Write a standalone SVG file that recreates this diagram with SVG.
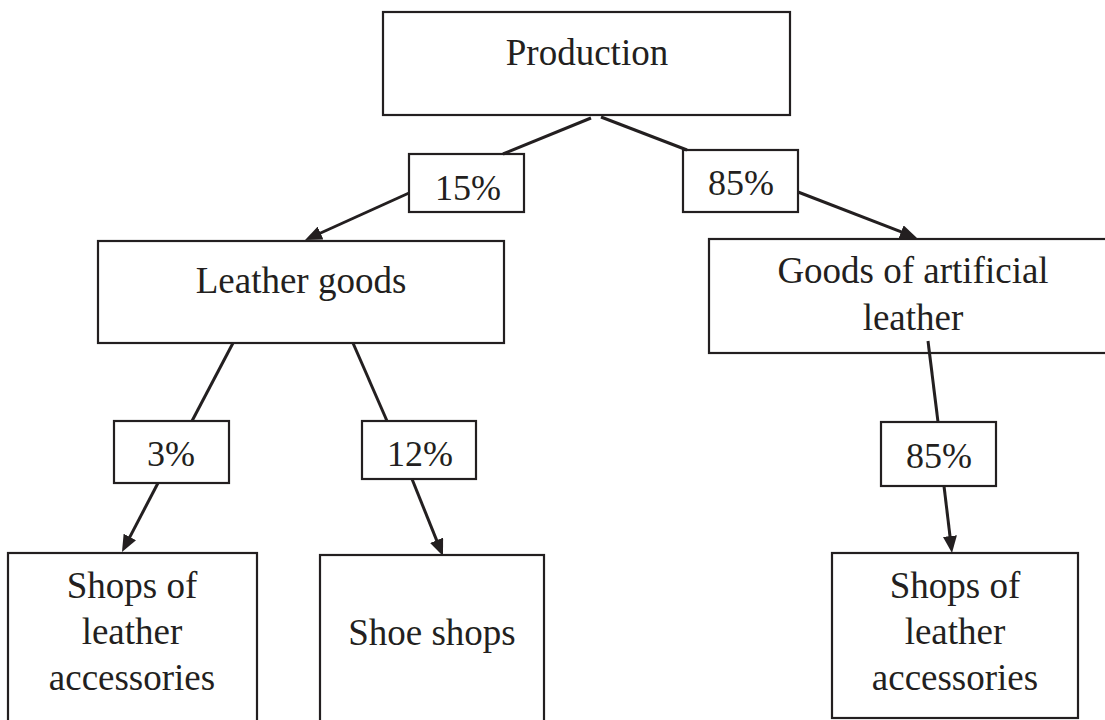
<svg xmlns="http://www.w3.org/2000/svg" width="1105" height="720" viewBox="0 0 1105 720">
<style>
.box{fill:#fff;stroke:#231f20;stroke-width:2.2}
.t{font-family:'Liberation Serif','Times New Roman','DejaVu Serif',serif;font-size:37px;fill:#231f20;text-anchor:middle}
.p{font-size:36px}
.c{fill:none;stroke:#231f20;stroke-width:3}
</style>
<defs>
<marker id="ah" markerUnits="userSpaceOnUse" markerWidth="18" markerHeight="14" refX="12" refY="7" orient="auto" viewBox="0 0 18 14">
<path d="M0,0 L17,7 L0,14 z" fill="#231f20"/>
</marker>
</defs>
<rect width="1105" height="720" fill="#fff"/>
<g id="production">
<rect class="box" x="383" y="12" width="407" height="103"/>
<text class="t" x="587" y="65" font-family="Liberation Serif, serif">Production</text>
</g>
<g id="p15">
<rect class="box" x="409" y="154" width="115" height="58"/>
<text class="t p" x="468" y="200" font-family="Liberation Serif, serif">15%</text>
</g>
<g id="p85a">
<rect class="box" x="683" y="150" width="115" height="62"/>
<text class="t p" x="741" y="195" font-family="Liberation Serif, serif">85%</text>
</g>
<g id="leather-goods">
<rect class="box" x="98" y="241" width="406" height="102"/>
<text class="t" x="301" y="293" font-family="Liberation Serif, serif">Leather goods</text>
</g>
<g id="artificial">
<rect class="box" x="709" y="239" width="410" height="114"/>
<text class="t" x="913" y="283" font-family="Liberation Serif, serif">Goods of artificial</text>
<text class="t" x="913" y="330" font-family="Liberation Serif, serif">leather</text>
</g>
<g id="p3">
<rect class="box" x="114" y="421" width="115" height="62"/>
<text class="t p" x="171" y="466" font-family="Liberation Serif, serif">3%</text>
</g>
<g id="p12">
<rect class="box" x="362" y="421" width="114" height="58"/>
<text class="t p" x="420" y="466" font-family="Liberation Serif, serif">12%</text>
</g>
<g id="p85b">
<rect class="box" x="881" y="422" width="115" height="64"/>
<text class="t p" x="939" y="468" font-family="Liberation Serif, serif">85%</text>
</g>
<g id="shops-left">
<rect class="box" x="8" y="553" width="249" height="180"/>
<text class="t" x="132" y="598" font-family="Liberation Serif, serif">Shops of</text>
<text class="t" x="132" y="644" font-family="Liberation Serif, serif">leather</text>
<text class="t" x="132" y="690" font-family="Liberation Serif, serif">accessories</text>
</g>
<g id="shoe-shops">
<rect class="box" x="320" y="555" width="224" height="180"/>
<text class="t" x="432" y="645" font-family="Liberation Serif, serif">Shoe shops</text>
</g>
<g id="shops-right">
<rect class="box" x="832" y="553" width="246" height="165"/>
<text class="t" x="955" y="598" font-family="Liberation Serif, serif">Shops of</text>
<text class="t" x="955" y="644" font-family="Liberation Serif, serif">leather</text>
<text class="t" x="955" y="690" font-family="Liberation Serif, serif">accessories</text>
</g>
<g id="connectors">
<line class="c" x1="591" y1="118" x2="503" y2="154"/>
<line class="c" x1="409" y1="193" x2="309.6" y2="238.0" marker-end="url(#ah)"/>
<line class="c" x1="601" y1="117" x2="687" y2="150"/>
<line class="c" x1="798" y1="192" x2="912.3" y2="236.2" marker-end="url(#ah)"/>
<line class="c" x1="233" y1="343" x2="192" y2="421"/>
<line class="c" x1="158" y1="483" x2="124.3" y2="547.6" marker-end="url(#ah)"/>
<line class="c" x1="353" y1="343" x2="387" y2="421"/>
<line class="c" x1="412" y1="479" x2="441.1" y2="551.4" marker-end="url(#ah)"/>
<line class="c" x1="928" y1="341" x2="938" y2="422"/>
<line class="c" x1="944" y1="486" x2="951.4" y2="548" marker-end="url(#ah)"/>
</g>
</svg>
